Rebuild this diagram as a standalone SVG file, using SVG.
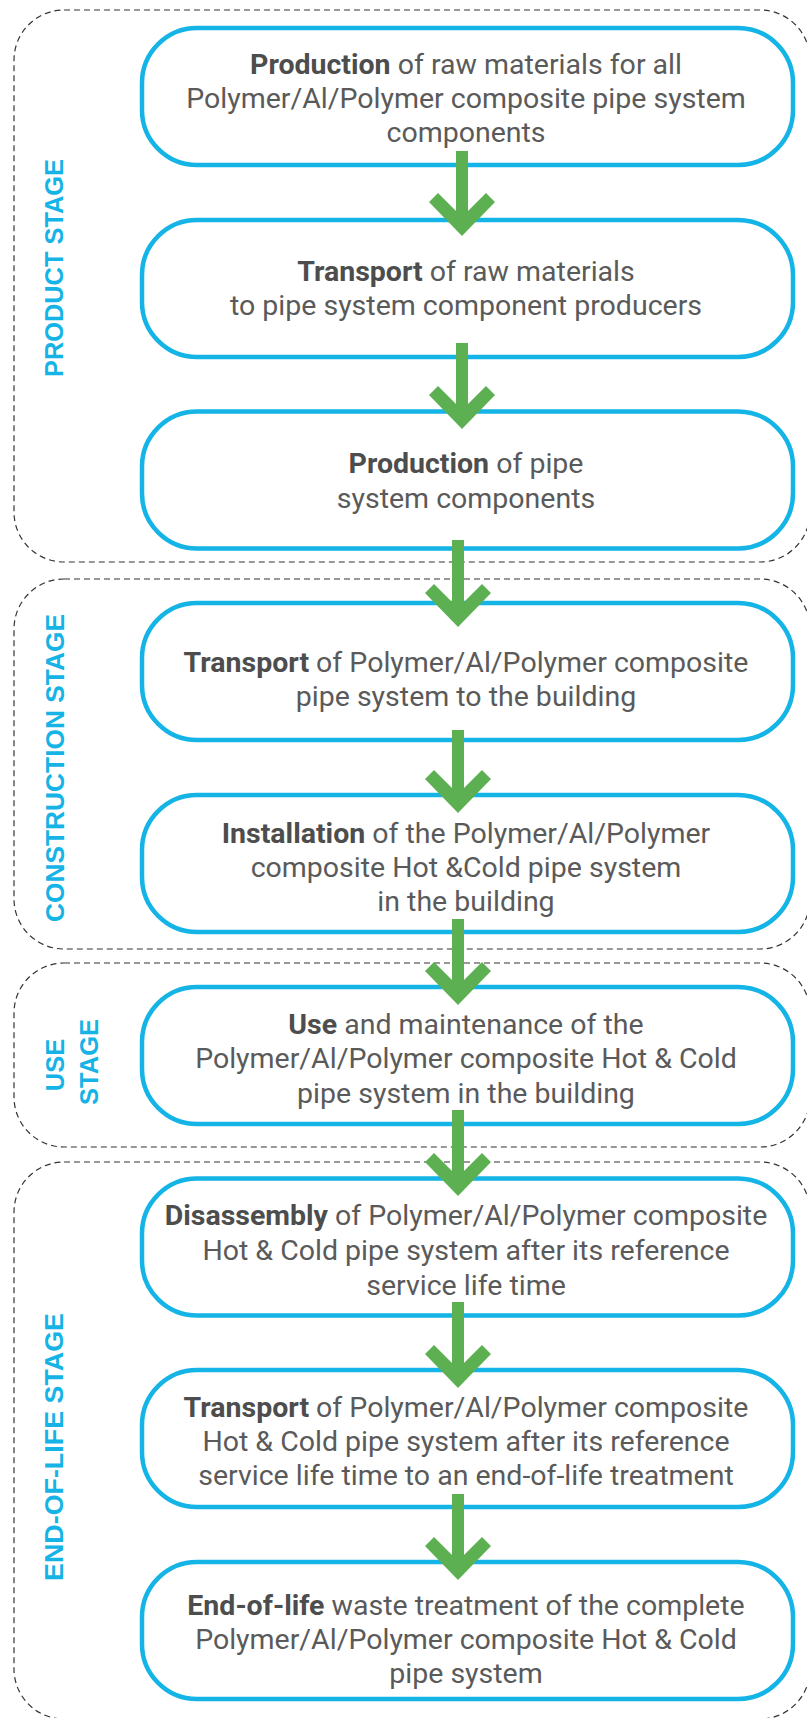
<svg xmlns="http://www.w3.org/2000/svg" width="807" height="1718" viewBox="0 0 807 1718">
<style>
.stage{fill:none;stroke:#333;stroke-width:1.2;stroke-dasharray:6 4}
.box{fill:#fff;stroke:#14b4e6;stroke-width:4.5}
.t{font-family:Roboto,"Liberation Sans",sans-serif;font-size:28.5px;fill:#5a5a5a;text-anchor:middle}
.b{font-weight:700;fill:#4d4d4d}
.lbl{font-family:"Liberation Sans",Arial,sans-serif;font-weight:700;font-size:25.5px;fill:#16b3e6;text-anchor:middle}
.arr{fill:#5cb052}
</style>
<rect width="807" height="1718" fill="#fff"/>
<g id="stages">
<rect class="stage" x="14" y="10" width="796" height="552" rx="50" ry="50"/>
<rect class="stage" x="14" y="579" width="796" height="370" rx="50" ry="50"/>
<rect class="stage" x="14" y="963" width="796" height="184" rx="50" ry="50"/>
<rect class="stage" x="14" y="1162" width="796" height="557" rx="50" ry="50"/>
</g>
<g id="stage-labels">
<text class="lbl" transform="translate(63,268) rotate(-90)" textLength="218" lengthAdjust="spacingAndGlyphs">PRODUCT STAGE</text>
<text class="lbl" transform="translate(64,768) rotate(-90)" textLength="308" lengthAdjust="spacingAndGlyphs">CONSTRUCTION STAGE</text>
<text class="lbl" transform="translate(64,1065) rotate(-90)">USE</text>
<text class="lbl" transform="translate(98,1062) rotate(-90)">STAGE</text>
<text class="lbl" transform="translate(63,1447) rotate(-90)" textLength="268" lengthAdjust="spacingAndGlyphs">END-OF-LIFE STAGE</text>
</g>
<g id="n1"><rect class="box" x="142" y="28" width="651" height="137" rx="55"/>
<text class="t" x="466" y="74"><tspan class="b">Production</tspan> of raw materials for all</text>
<text class="t" x="466" y="108">Polymer/Al/Polymer composite pipe system</text>
<text class="t" x="466" y="142">components</text></g>
<g id="n2"><rect class="box" x="142" y="220" width="651" height="137" rx="55"/>
<text class="t" x="466" y="281"><tspan class="b">Transport</tspan> of raw materials</text>
<text class="t" x="466" y="315">to pipe system component producers</text></g>
<g id="n3"><rect class="box" x="142" y="411.5" width="651" height="137" rx="55"/>
<text class="t" x="466" y="473"><tspan class="b">Production</tspan> of pipe</text>
<text class="t" x="466" y="508">system components</text></g>
<g id="n4"><rect class="box" x="142" y="603" width="651" height="137" rx="55"/>
<text class="t" x="466" y="672"><tspan class="b">Transport</tspan> of Polymer/Al/Polymer composite</text>
<text class="t" x="466" y="706">pipe system to the building</text></g>
<g id="n5"><rect class="box" x="142" y="795" width="651" height="137" rx="55"/>
<text class="t" x="466" y="843"><tspan class="b">Installation</tspan> of the Polymer/Al/Polymer</text>
<text class="t" x="466" y="877">composite Hot &amp;Cold pipe system</text>
<text class="t" x="466" y="911">in the building</text></g>
<g id="n6"><rect class="box" x="142" y="987" width="651" height="137" rx="55"/>
<text class="t" x="466" y="1034"><tspan class="b">Use</tspan> and maintenance of the</text>
<text class="t" x="466" y="1068">Polymer/Al/Polymer composite Hot &amp; Cold</text>
<text class="t" x="466" y="1103">pipe system in the building</text></g>
<g id="n7"><rect class="box" x="142" y="1178.5" width="651" height="137" rx="55"/>
<text class="t" x="466" y="1225"><tspan class="b">Disassembly</tspan> of Polymer/Al/Polymer composite</text>
<text class="t" x="466" y="1260">Hot &amp; Cold pipe system after its reference</text>
<text class="t" x="466" y="1295">service life time</text></g>
<g id="n8"><rect class="box" x="142" y="1370" width="651" height="137" rx="55"/>
<text class="t" x="466" y="1417"><tspan class="b">Transport</tspan> of Polymer/Al/Polymer composite</text>
<text class="t" x="466" y="1451">Hot &amp; Cold pipe system after its reference</text>
<text class="t" x="466" y="1485">service life time to an end-of-life treatment</text></g>
<g id="n9"><rect class="box" x="142" y="1562" width="651" height="137" rx="55"/>
<text class="t" x="466" y="1615"><tspan class="b">End-of-life</tspan> waste treatment of the complete</text>
<text class="t" x="466" y="1649">Polymer/Al/Polymer composite Hot &amp; Cold</text>
<text class="t" x="466" y="1683">pipe system</text></g>
<g id="connectors">
<g class="arr"><rect x="456" y="151" width="12" height="68"/><polygon points="462,236 429,202 438,193 462,217 486,193 495,202"/></g>
<g class="arr"><rect x="456" y="343" width="12" height="69"/><polygon points="462,429 429,395 438,386 462,410 486,386 495,395"/></g>
<g class="arr"><rect x="452" y="540" width="12" height="70"/><polygon points="458,627 425,593 434,584 458,608 482,584 491,593"/></g>
<g class="arr"><rect x="452" y="730" width="12" height="66"/><polygon points="458,813 425,779 434,770 458,794 482,770 491,779"/></g>
<g class="arr"><rect x="452" y="919" width="12" height="69"/><polygon points="458,1005 425,971 434,962 458,986 482,962 491,971"/></g>
<g class="arr"><rect x="452" y="1110" width="12" height="69"/><polygon points="458,1196 425,1162 434,1153 458,1177 482,1153 491,1162"/></g>
<g class="arr"><rect x="452" y="1302" width="12" height="69"/><polygon points="458,1388 425,1354 434,1345 458,1369 482,1345 491,1354"/></g>
<g class="arr"><rect x="452" y="1494" width="12" height="69"/><polygon points="458,1580 425,1546 434,1537 458,1561 482,1537 491,1546"/></g>
</g>
</svg>
